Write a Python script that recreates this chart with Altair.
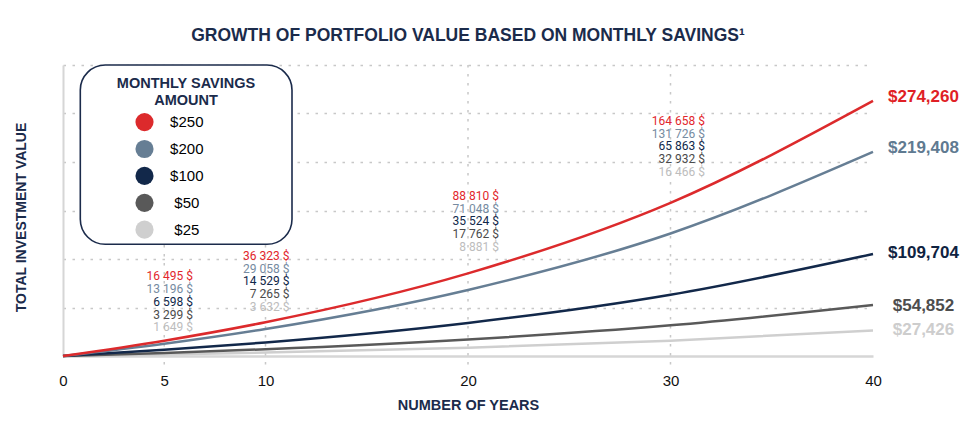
import altair as alt
import pandas as pd

# ---- data -------------------------------------------------------------
YEARS = [0, 5, 10, 20, 30, 40]
SERIES = ["$250", "$200", "$100", "$50", "$25"]

SAVE_250 = [0, 16495, 36323, 88810, 164658, 274260]
SAVE_200 = [0, 13196, 29058, 71048, 131726, 219408]
SAVE_100 = [0, 6598, 14529, 35524, 65863, 109704]
SAVE_50 = [0, 3299, 7265, 17762, 32932, 54852]
SAVE_25 = [0, 1649, 3632, 8881, 16466, 27426]

X_TICKS = [0, 5, 10, 20, 30, 40]
GRID_YEARS = [5, 10, 20, 30]
LABEL_YEARS = [5, 10, 20, 30]
LEGEND_HEADING = ["MONTHLY SAVINGS", "AMOUNT"]

# ---- styling ----------------------------------------------------------
NAVY = "#1b2b4b"
LINE_COLORS = ["#dc2a2c", "#667e94", "#12284a", "#595959", "#cfcfcf"]
NOTE_COLORS = ["#e2262c", "#768ba1", "#10284a", "#4b4b4b", "#bdbdbd"]
END_COLORS = ["#e01f26", "#5f7a91", "#0f2341", "#4d4d4d", "#cdcdcd"]
END_DY = [-4, -4, -1, 1, 0]
GRID_COLOR = "#c8c8c8"
DOTS = [2.5, 6.5]

W, H = 810, 291
Y_MAX = 312840
GRID_VALUES = [round(Y_MAX * k / 6) for k in range(1, 7)]

# stacked value notes above the curves: pixel shift of the top row, per year
NOTE_DY = {5: -64.5, 10: -66.5, 20: -77.5, 30: -82}
NOTE_DX = {5: 28.7, 10: 24, 20: 31, 30: 34.5}
NOTE_STEP = 12.8

FONT = "Liberation Sans"
NOTE_FONT = "Roboto"

# ---- table ------------------------------------------------------------
columns = [SAVE_250, SAVE_200, SAVE_100, SAVE_50, SAVE_25]
rows = []
for rank in reversed(range(len(SERIES))):
    for yr, v in zip(YEARS, columns[rank]):
        rows.append({
            "year": yr,
            "series": SERIES[rank],
            "rank": rank,
            "value": v,
            "note": f"{v:,}".replace(",", " ") + " $",
            "end": f"${v:,}",
        })
df = pd.DataFrame(rows)

x_scale = alt.Scale(domain=[0, 40], nice=False)
y_scale = alt.Scale(domain=[0, Y_MAX], nice=False)

x_axis = alt.Axis(
    values=X_TICKS, title="NUMBER OF YEARS", grid=False, ticks=False,
    domainColor="#d6d6d6", domainWidth=2.5,
    labelFont=FONT, labelFontSize=15, labelColor="#111111",
    labelPadding=24.5, labelBaseline="middle", labelFlush=False,
    titleFont=FONT, titleFontSize=14.5, titleFontWeight="bold",
    titleColor=NAVY, titleY=49.5, titleBaseline="middle",
)
y_axis = alt.Axis(
    values=GRID_VALUES, labels=False, ticks=False,
    grid=True, gridDash=DOTS, gridColor=GRID_COLOR, gridWidth=1.5,
    domainColor="#d6d6d6", domainWidth=2,
    title="TOTAL INVESTMENT VALUE", titleFont=FONT, titleFontSize=14,
    titleFontWeight="bold", titleColor=NAVY, titleAngle=270,
    titleX=-42, titleY=152, titleAlign="center", titleBaseline="middle",
)

X = alt.X("year:Q", scale=x_scale, axis=x_axis)
Y_VAL = alt.Y("value:Q", scale=y_scale, axis=y_axis)

base = alt.Chart(df)

vgrid = alt.Chart(pd.DataFrame({"year": GRID_YEARS})).mark_rule(
    strokeDash=DOTS, color=GRID_COLOR, strokeWidth=1.5
).encode(
    x=X,
    y=alt.value(0),
    y2=alt.value(H + 9),
)

# rounded frame and heading of the savings-amount legend
one_row = alt.Data(values=[{"box": 1}])
legend_box = alt.Chart(one_row).mark_rect(
    fill="white", stroke=NAVY, strokeWidth=1.6, cornerRadius=25
).encode(
    x=alt.value(17.3), x2=alt.value(229), y=alt.value(0), y2=alt.value(179.3)
)
heading = [
    alt.Chart(one_row).mark_text(
        font=FONT, fontSize=14.5, fontWeight="bold", color=NAVY,
        align="center", baseline="middle",
    ).encode(x=alt.value(123), y=alt.value(18.5 + i * 17.2), text=alt.value(line))
    for i, line in enumerate(LEGEND_HEADING)
]

layers = [vgrid, legend_box] + heading

# one curve per savings amount, lightest first so the red one sits on top
for rank in reversed(range(len(SERIES))):
    layers.append(
        base.mark_line(
            interpolate="monotone", strokeWidth=2.5, color=LINE_COLORS[rank]
        ).encode(x=X, y=Y_VAL).transform_filter(f"datum.rank == {rank}")
    )

# invisible circles that carry the savings-amount legend entries
legend_layer = base.mark_circle(opacity=1, size=0).encode(
    x=X,
    y=Y_VAL,
    fill=alt.Fill(
        "series:N",
        scale=alt.Scale(domain=SERIES, range=LINE_COLORS),
        legend=alt.Legend(
            title=None, orient="none", legendX=72, legendY=47.6, padding=0,
            labelFont=FONT, labelFontSize=15, labelColor="#000000",
            labelAlign="center", labelOffset=32.8,
            symbolType="circle", symbolSize=330, symbolStrokeWidth=0,
            symbolOpacity=1, symbolOffset=0, rowPadding=7.9,
        ),
    ),
)

# stacked value notes at selected years
for yr in LABEL_YEARS:
    for rank in range(len(SERIES)):
        layers.append(
            base.mark_text(
                align="right", baseline="middle", font=NOTE_FONT, fontSize=12,
                color=NOTE_COLORS[rank], dx=NOTE_DX[yr],
                dy=NOTE_DY[yr] + rank * NOTE_STEP,
            ).encode(
                x=X,
                y=alt.Y("top:Q", scale=y_scale, axis=y_axis),
                text="note:N",
            ).transform_joinaggregate(
                top="max(value)", groupby=["year"]
            ).transform_filter(
                f"datum.year == {yr} && datum.rank == {rank}"
            )
        )

# final values at the right end of each curve
for rank in range(len(SERIES)):
    layers.append(
        base.mark_text(
            align="center", baseline="middle", font=FONT, fontSize=17,
            fontWeight="bold", color=END_COLORS[rank], dx=50.5, dy=END_DY[rank],
        ).encode(
            x=X,
            y=Y_VAL,
            text="end:N",
        ).transform_filter(f"datum.year == 40 && datum.rank == {rank}")
    )

layers.append(legend_layer)

chart = alt.layer(*layers).properties(
    width=W,
    height=H,
    background="white",
    title=alt.Title(
        "GROWTH OF PORTFOLIO VALUE BASED ON MONTHLY SAVINGS\u00b9",
        font=FONT, fontSize=17.5, fontWeight="bold", color=NAVY,
        anchor="middle", baseline="alphabetic", offset=6,
    ),
    autosize=alt.AutoSizeParams(type="none"),
    padding={"left": 63, "top": 65, "right": 107, "bottom": 66},
).configure_view(stroke="transparent")

chart.save("out.html", embed_options={"renderer": "svg", "actions": False})
